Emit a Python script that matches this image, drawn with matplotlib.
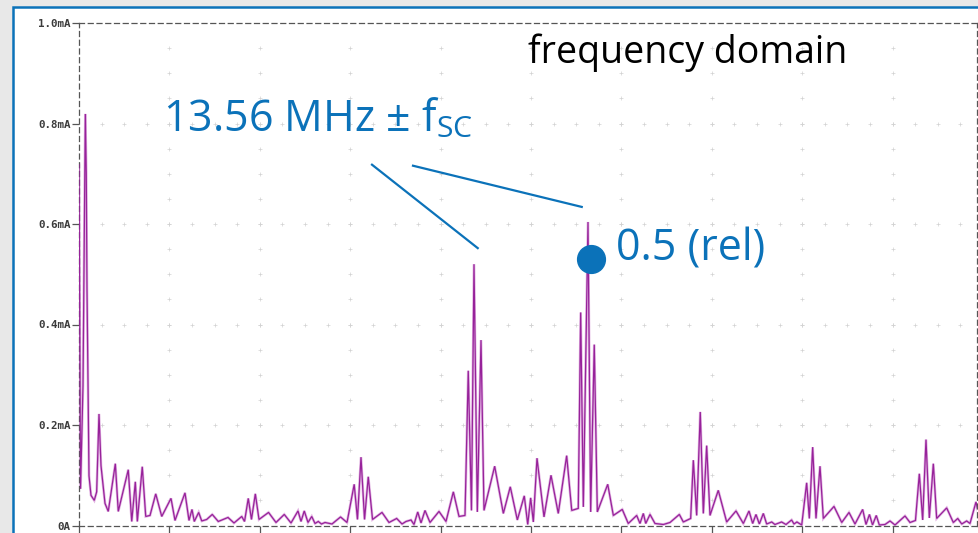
"""
Spectrum of a 13.56 MHz carrier with subcarrier sidebands (PSpice-style screenshot).
"""
import matplotlib
matplotlib.use("Agg")
import matplotlib.pyplot as plt
from matplotlib.patches import Rectangle
import numpy as np

plt.rcParams['font.family'] = ['Open Sans', 'DejaVu Sans']

# frequency offset from the 13.56 MHz carrier (kHz) and current (mA)
freq_offset_khz = [
    -3817.5, -3806, -3787.5, -3770, -3763, -3757.5, -3748, -3742.5, -3727.5, -3703,
    -3685, -3667.5, -3652.5, -3622.5, -3598, -3545, -3523, -3448, -3422, -3395,
    -3380, -3343, -3317, -3285, -3242, -3197, -3127.5, -3097.5, -3022.5, -2992.5,
    -2970, -2953, -2920, -2897, -2860, -2818, -2773, -2700, -2655, -2597,
    -2576, -2548, -2524, -2495, -2467.5, -2396, -2340, -2278, -2227.5, -2175,
    -2152.5, -2128, -2100, -2072, -2047.5, -2023, -1999, -1972.5, -1920, -1856,
    -1807.5, -1753.5, -1729, -1702.5, -1676, -1648, -1616, -1545, -1492.5, -1435,
    -1395, -1365, -1327.5, -1305, -1277, -1252.5, -1222.5, -1185, -1117.5, -1065,
    -1010, -967.5, -922.5, -898, -874, -855, -830, -802.5, -780, -700,
    -635, -583, -530, -478, -452, -430, -410, -382.5, -330, -277.5,
    -223, -160, -122, -73, -55, -35, 0, 20, 47, 70,
    148, 190, 257, 302, 365, 390, 415, 433, 465, 502.5,
    565, 615, 685, 715, 770, 790, 815, 842, 865, 890,
    915, 977, 1040, 1110, 1165, 1207.5, 1235, 1260, 1285, 1315,
    1340, 1378, 1402, 1452, 1485, 1527, 1545, 1567, 1603, 1640,
    1660, 1685, 1710, 1740, 1765, 1845, 1903, 1957.5, 2002.5, 2060,
    2085, 2111, 2134, 2162, 2185, 2227.5, 2265, 2302.5, 2377.5, 2415,
    2456, 2485, 2510, 2535, 2560, 2590, 2615, 2690, 2740, 2773,
    2803, 2840, 2865, 2910, 2940,
]
current_ma = [
    0.718, 0.073, 0.278, 0.819, 0.702, 0.470, 0.236, 0.099, 0.060, 0.050,
    0.067, 0.222, 0.119, 0.044, 0.028, 0.123, 0.028, 0.111, 0.008, 0.087,
    0.008, 0.117, 0.018, 0.020, 0.063, 0.018, 0.054, 0.010, 0.065, 0.010,
    0.032, 0.008, 0.026, 0.009, 0.012, 0.022, 0.008, 0.016, 0.005, 0.018,
    0.008, 0.054, 0.012, 0.063, 0.012, 0.026, 0.006, 0.022, 0.005, 0.029,
    0.008, 0.029, 0.006, 0.018, 0.004, 0.008, 0.003, 0.006, 0.003, 0.017,
    0.006, 0.082, 0.012, 0.136, 0.012, 0.097, 0.012, 0.026, 0.006, 0.014,
    0.003, 0.008, 0.011, 0.002, 0.027, 0.005, 0.030, 0.006, 0.028, 0.008,
    0.067, 0.018, 0.020, 0.308, 0.030, 0.520, 0.027, 0.369, 0.030, 0.118,
    0.024, 0.077, 0.011, 0.059, 0.002, 0.055, 0.007, 0.134, 0.017, 0.100,
    0.024, 0.139, 0.030, 0.034, 0.424, 0.037, 0.604, 0.027, 0.360, 0.027,
    0.082, 0.020, 0.032, 0.004, 0.020, 0.004, 0.024, 0.004, 0.022, 0.004,
    0.002, 0.006, 0.022, 0.007, 0.014, 0.130, 0.020, 0.226, 0.024, 0.159,
    0.020, 0.070, 0.007, 0.029, 0.004, 0.029, 0.004, 0.022, 0.003, 0.024,
    0.003, 0.007, 0.002, 0.007, 0.002, 0.011, 0.003, 0.007, 0.001, 0.085,
    0.014, 0.156, 0.014, 0.118, 0.014, 0.038, 0.006, 0.026, 0.003, 0.032,
    0.002, 0.022, 0.001, 0.020, 0.001, 0.002, 0.009, 0.001, 0.019, 0.006,
    0.010, 0.103, 0.011, 0.171, 0.015, 0.123, 0.014, 0.035, 0.006, 0.014,
    0.003, 0.009, 0.004, 0.047, 0.010,
]

y_ticks = [0.0, 0.2, 0.4, 0.6, 0.8, 1.0]
y_tick_labels = ['0A', '0.2mA', '0.4mA', '0.6mA', '0.8mA', '1.0mA']

carrier_marker = (20, 0.531)
BLUE = '#0b72b9'

W, H = 979, 533
fig = plt.figure(figsize=(W / 100, H / 100), dpi=100)
fig.patch.set_facecolor('#e8e8e8')

# white panel with blue frame, behind the axes
fig.patches.append(Rectangle((13 / W, -0.1), 1.2, 1 - 7 / H + 0.1,
                             transform=fig.transFigure, facecolor='white',
                             edgecolor=BLUE, linewidth=1.8, zorder=-5))

ax = fig.add_axes([79 / W, 7.5 / H, 898 / W, 502.5 / H])
ax.set_zorder(2)
ax.set_facecolor('white')
x_left, x_right = -3817.5, 2917.5
div = 678.0
ax.set_xlim(x_left, x_right)
ax.set_ylim(0, 1.0)

# dotted PSpice-like grid: little crosses along the major lines
gx, gy = [], []
major_x = [x_left + k * div for k in range(1, 10)]
for mx in major_x:
    for yv in np.arange(0.05, 0.951, 0.05):
        gx.append(mx)
        gy.append(yv)
for my in [0.2, 0.4, 0.6, 0.8]:
    xv = x_left + div / 4
    while xv < x_right:
        gx.append(xv)
        gy.append(my)
        xv += div / 4
ax.scatter(gx, gy, marker='+', s=9, linewidths=0.5, color='#d2d2d2', zorder=1)

# trace
ax.plot(freq_offset_khz, current_ma, color='#e2b4e2', lw=1.9, zorder=2,
        solid_joinstyle='miter')
ax.plot(freq_offset_khz, current_ma, color='#97229a', lw=0.9, zorder=3,
        solid_joinstyle='miter')

for s in ax.spines.values():
    s.set_linestyle((0, (4, 3)))
    s.set_color('#555555')
    s.set_linewidth(0.9)

ax.set_xticks([x_left + k * div for k in range(0, 10)])
ax.set_xticklabels([])
ax.set_yticks(y_ticks)
ax.set_yticklabels(y_tick_labels, family='DejaVu Sans Mono', fontweight='bold',
                   fontsize=7.8, color='#3c3c3c')
ax.tick_params(axis='both', direction='out', length=5, width=0.9,
               color='#555555', pad=1)

# annotations
fig.text(528 / W, 1 - 63 / H, 'frequency domain', fontsize=27, color='black',
         va='baseline', ha='left', zorder=10)

plt.rcParams['mathtext.fontset'] = 'custom'
plt.rcParams['mathtext.rm'] = 'Open Sans'
fig.text(163 / W, 1 - 131 / H, r'13.56 MHz ± f$_\mathregular{SC}$', fontsize=31,
         color=BLUE, va='baseline', ha='left', zorder=10)

ax.plot([-1620, -827], [0.718, 0.552], color=BLUE, lw=1.6, zorder=4)
ax.plot([-1312.5, -47], [0.716, 0.634], color=BLUE, lw=1.6, zorder=4)
ax.plot([carrier_marker[0]], [carrier_marker[1]], 'o', color=BLUE, ms=20,
        zorder=5)
fig.text(616 / W, 1 - 261 / H, '0.5 (rel)', fontsize=31, color=BLUE,
         va='baseline', ha='left', zorder=10)

fig.savefig('out.png', dpi=100, facecolor=fig.get_facecolor())
